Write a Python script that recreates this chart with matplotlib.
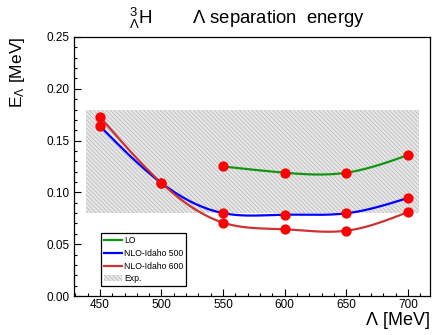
import numpy as np
import matplotlib
matplotlib.use("Agg")
import matplotlib.pyplot as plt
from matplotlib.ticker import MultipleLocator

plt.rcParams['font.family'] = ['Liberation Sans', 'DejaVu Sans']
plt.rcParams['mathtext.fontset'] = 'custom'
plt.rcParams['mathtext.rm'] = 'Liberation Sans'
plt.rcParams['mathtext.it'] = 'Liberation Sans'
plt.rcParams['hatch.linewidth'] = 0.6
plt.rcParams['hatch.color'] = '#bcbcbc'

# data
cutoff_lo = [550, 600, 650, 700]
e_lo = [0.125, 0.119, 0.119, 0.136]

cutoff_nlo = [450, 500, 550, 600, 650, 700]
e_nlo500 = [0.164, 0.109, 0.080, 0.0785, 0.0798, 0.0946]
e_nlo600 = [0.173, 0.109, 0.0708, 0.0644, 0.063, 0.081]

exp_range = [439, 709]
exp_band = [0.08, 0.18]


def natural_spline(x, y, n=200):
    """smooth curve through the points (natural cubic spline)"""
    x = np.asarray(x, float)
    y = np.asarray(y, float)
    m = len(x)
    h = np.diff(x)
    A = np.zeros((m, m))
    b = np.zeros(m)
    A[0, 0] = A[-1, -1] = 1
    for i in range(1, m - 1):
        A[i, i - 1] = h[i - 1]
        A[i, i] = 2*(h[i - 1] + h[i])
        A[i, i + 1] = h[i]
        b[i] = 3*((y[i + 1] - y[i])/h[i] - (y[i] - y[i - 1])/h[i - 1])
    c = np.linalg.solve(A, b)
    xs = np.linspace(x[0], x[-1], n)
    k = np.clip(np.searchsorted(x, xs) - 1, 0, m - 2)
    dx = xs - x[k]
    bb = (y[k + 1] - y[k])/h[k] - h[k]*(2*c[k] + c[k + 1])/3
    dd = (c[k + 1] - c[k])/(3*h[k])
    ys = y[k] + bb*dx + c[k]*dx**2 + dd*dx**3
    return xs, ys


fig = plt.figure(figsize=(4.34, 3.35), dpi=100)
ax = fig.add_axes([0.1705, 0.1164, 0.8203, 0.7732])

band = ax.fill_between(exp_range, exp_band[0], exp_band[1], facecolor='#e8e8e8',
                       hatch='\\\\\\\\\\\\\\\\', edgecolor='#bcbcbc',
                       linewidth=0, label='Exp.')

xs, ys = natural_spline(cutoff_lo, e_lo)
l1, = ax.plot(xs, ys, color='#129612', lw=1.6, label='LO')
xs, ys = natural_spline(cutoff_nlo, e_nlo500)
l2, = ax.plot(xs, ys, color='#0000ff', lw=1.6, label='NLO-Idaho 500')
xs, ys = natural_spline(cutoff_nlo, e_nlo600)
l3, = ax.plot(xs, ys, color='#cc3333', lw=1.6, label='NLO-Idaho 600')

for yy, xx in [(e_lo, cutoff_lo), (e_nlo500, cutoff_nlo), (e_nlo600, cutoff_nlo)]:
    ax.plot(xx, yy, 'o', color='#ff0000', ms=7.4, mec='none', zorder=5)

ax.set_xlim(429, 718)
ax.set_ylim(0, 0.25)
ax.xaxis.set_major_locator(MultipleLocator(50))
ax.xaxis.set_minor_locator(MultipleLocator(10))
ax.yaxis.set_major_locator(MultipleLocator(0.05))
ax.yaxis.set_minor_locator(MultipleLocator(0.01))
ax.yaxis.set_major_formatter(matplotlib.ticker.FormatStrFormatter('%.2f'))
ax.tick_params(which='both', direction='in', top=False, right=False, labelsize=8.5)
ax.tick_params(which='major', length=5, width=0.8)
ax.tick_params(which='minor', length=2.5, width=0.8)
ax.tick_params(axis='x', pad=2.5)
for s in ax.spines.values():
    s.set_linewidth(0.9)

ax.set_xlabel(r'$\Lambda$ [MeV]', fontsize=13, loc='right', labelpad=-1)
ax.set_ylabel(r'E$_\Lambda$ [MeV]', fontsize=12.5, loc='top', labelpad=14)

fig.text(0.325, 0.945, r'$^{3}_{\Lambda}$H', fontsize=13.5, ha='center', va='center')
fig.text(0.442, 0.945, r'$\Lambda$ separation  energy', fontsize=13.3, ha='left', va='center')

leg = ax.legend(handles=[l1, l2, l3, band], loc='upper left',
                bbox_to_anchor=(0.077, 0.244), fontsize=6.2, frameon=True,
                fancybox=False, framealpha=1, edgecolor='black', handlelength=2.0,
                handletextpad=0.3, labelspacing=0.45, borderpad=0.35, borderaxespad=0)
leg.get_frame().set_linewidth(0.9)

fig.savefig('out.png', dpi=100)
